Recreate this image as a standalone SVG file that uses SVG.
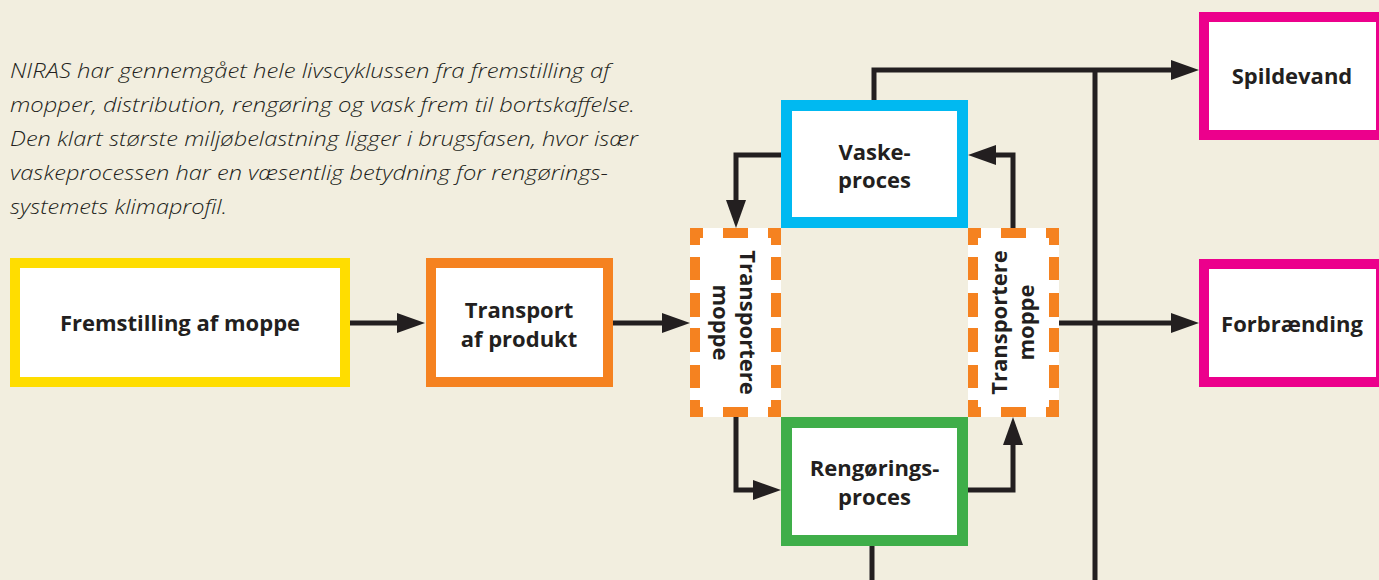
<svg xmlns="http://www.w3.org/2000/svg" width="1379" height="580" viewBox="0 0 1379 580">
<style>
.bg{fill:#F2EEDF}
.box{fill:#fff}
.lbl{font-family:"Open Sans","Noto Sans","DejaVu Sans",sans-serif;font-weight:700;font-size:22px;fill:#231F20;text-anchor:middle}
.para{font-family:"Open Sans","Noto Sans","DejaVu Sans",sans-serif;font-style:italic;font-weight:300;font-size:20px;fill:#231F20}
.con{fill:none;stroke:#231F20;stroke-width:5;stroke-linejoin:miter}
.dash{fill:none;stroke:#F58220;stroke-width:10;stroke-linecap:butt;stroke-linejoin:miter}
</style>
<defs>
<marker id="ah" markerUnits="userSpaceOnUse" markerWidth="28" markerHeight="20" refX="2" refY="10" orient="auto" overflow="visible">
<path d="M0,0 L28,10 L0,20 Z" fill="#231F20"/>
</marker>
</defs>
<rect class="bg" x="0" y="0" width="1379" height="580"/>

<g id="intro-text">
<text class="para" x="10" y="78" textLength="600" lengthAdjust="spacingAndGlyphs">NIRAS har gennemgået hele livscyklussen fra fremstilling af</text>
<text class="para" x="10" y="112" textLength="625" lengthAdjust="spacingAndGlyphs">mopper, distribution, rengøring og vask frem til bortskaffelse.</text>
<text class="para" x="10" y="146" textLength="628" lengthAdjust="spacingAndGlyphs">Den klart største miljøbelastning ligger i brugsfasen, hvor især</text>
<text class="para" x="10" y="180" textLength="598" lengthAdjust="spacingAndGlyphs">vaskeprocessen har en væsentlig betydning for rengørings-</text>
<text class="para" x="10" y="214" textLength="217" lengthAdjust="spacingAndGlyphs">systemets klimaprofil.</text>
</g>

<g id="connectors">
<path class="con" d="M350,323 H399" marker-end="url(#ah)"/>
<path class="con" d="M612,323 H664" marker-end="url(#ah)"/>
<path class="con" d="M781,155 H736 V202" marker-end="url(#ah)"/>
<path class="con" d="M1013,228 V155 H994" marker-end="url(#ah)"/>
<path class="con" d="M736,417 V490 H755" marker-end="url(#ah)"/>
<path class="con" d="M968,490 H1013 V443" marker-end="url(#ah)"/>
<path class="con" d="M874,100 V70 H1173" marker-end="url(#ah)"/>
<path class="con" d="M1095,70 V580"/>
<path class="con" d="M1059,323 H1173" marker-end="url(#ah)"/>
<path class="con" d="M872,545 V580"/>
</g>

<g id="fremstilling">
<rect class="box" x="15" y="263" width="330" height="119" stroke="#FFDD00" stroke-width="10"/>
<text class="lbl" x="180" y="331">Fremstilling af moppe</text>
</g>

<g id="transport">
<rect class="box" x="431" y="263" width="177" height="119" stroke="#F58220" stroke-width="10"/>
<text class="lbl" x="519" y="318">Transport</text>
<text class="lbl" x="519" y="347">af produkt</text>
</g>

<g id="transportere-venstre">
<rect class="box" x="690" y="228" width="91" height="189"/>
<polyline class="dash" points="695,245 695,233 703,233"/>
<polyline class="dash" points="768,233 776,233 776,245"/>
<polyline class="dash" points="695,400 695,412 703,412"/>
<polyline class="dash" points="768,412 776,412 776,400"/>
<path class="dash" d="M723,233 H748 M723,412 H748 M695,257 V280 M695,293 V317 M695,328 V352 M695,365 V388 M776,257 V280 M776,293 V317 M776,328 V352 M776,365 V388"/>
<g transform="translate(735.5,322.5) rotate(90)">
<text class="lbl" x="0" y="-4.5">Transportere</text>
<text class="lbl" x="0" y="22.5">moppe</text>
</g>
</g>

<g id="transportere-hoejre">
<rect class="box" x="968" y="228" width="91" height="189"/>
<polyline class="dash" points="973,245 973,233 981,233"/>
<polyline class="dash" points="1046,233 1054,233 1054,245"/>
<polyline class="dash" points="973,400 973,412 981,412"/>
<polyline class="dash" points="1046,412 1054,412 1054,400"/>
<path class="dash" d="M1001,233 H1026 M1001,412 H1026 M973,257 V280 M973,293 V317 M973,328 V352 M973,365 V388 M1054,257 V280 M1054,293 V317 M1054,328 V352 M1054,365 V388"/>
<g transform="translate(1013.5,322.5) rotate(-90)">
<text class="lbl" x="0" y="-6.5">Transportere</text>
<text class="lbl" x="0" y="20.5">moppe</text>
</g>
</g>

<g id="vaskeproces">
<rect class="box" x="786.5" y="105.5" width="176" height="117" stroke="#00B9F1" stroke-width="11"/>
<text class="lbl" x="874.5" y="160">Vaske-</text>
<text class="lbl" x="874.5" y="188">proces</text>
</g>

<g id="rengoeringsproces">
<rect class="box" x="786.5" y="422.5" width="176" height="118" stroke="#3FAE49" stroke-width="11"/>
<text class="lbl" x="874.5" y="476">Rengørings-</text>
<text class="lbl" x="874.5" y="505">proces</text>
</g>

<g id="spildevand">
<rect class="box" x="1204" y="17" width="177" height="118" stroke="#EC008C" stroke-width="10"/>
<text class="lbl" x="1292" y="84">Spildevand</text>
</g>

<g id="forbraending">
<rect class="box" x="1204" y="264" width="177" height="118" stroke="#EC008C" stroke-width="10"/>
<text class="lbl" x="1292" y="332">Forbrænding</text>
</g>
</svg>
